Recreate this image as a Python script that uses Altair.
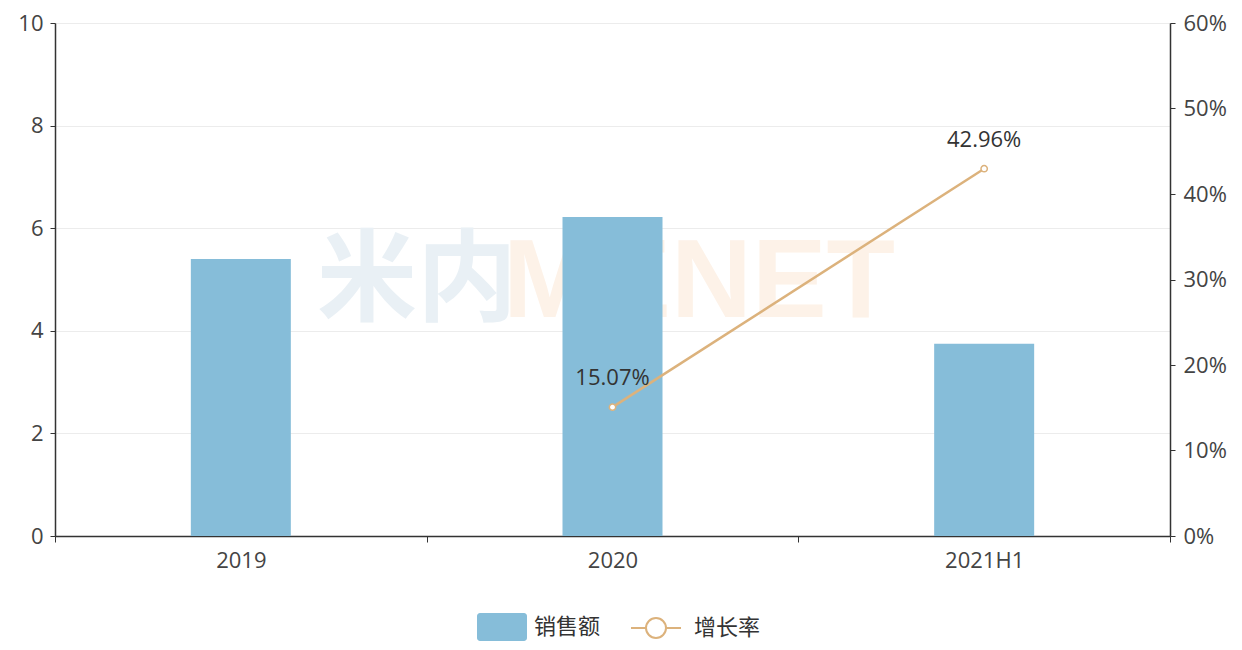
import altair as alt
import pandas as pd

categories = ["2019", "2020", "2021H1"]
sales = [5.40, 6.22, 3.75]
growth = [None, 0.1507, 0.4296]
growth_labels = ["", "15.07%", "42.96%"]

BAR = "#86bdd9"
LINE = "#dcb27c"
FONT = "Noto Sans CJK SC"
NUM = "Open Sans"

bar_df = pd.DataFrame({"cat": categories, "sales": sales, "series": ["销售额"] * 3})
line_df = pd.DataFrame({"cat": categories, "growth": growth, "label": growth_labels,
                        "series2": ["增长率"] * 3}).dropna()

x_axis = alt.Axis(labelAngle=0, tickBand="extent", tickSize=6, labelPadding=8,
                  labelFontSize=22, labelFont=NUM, labelColor="#444", domainColor="#333",
                  tickColor="#333", domainWidth=1.5, grid=False)
x_enc = alt.X("cat:N", sort=categories, title=None,
              scale=alt.Scale(paddingInner=0, paddingOuter=0), axis=x_axis)

rect_path = ("M-0.88,-0.56 H0.88 A0.12,0.12 0 0 1 1,-0.44 V0.44 A0.12,0.12 0 0 1 0.88,0.56 "
             "H-0.88 A0.12,0.12 0 0 1 -1,0.44 V-0.44 A0.12,0.12 0 0 1 -0.88,-0.56 Z")
line_path = ("M-1,0 H-0.4 M0.4,0 H1 M0.4,0 A0.4,0.4 0 1 1 -0.4,0 A0.4,0.4 0 1 1 0.4,0 Z")

bars = alt.Chart(bar_df).mark_bar(size=100).encode(
    x=x_enc,
    y=alt.Y("sales:Q", title=None,
            scale=alt.Scale(domain=[0, 10], nice=False),
            axis=alt.Axis(values=[0, 2, 4, 6, 8, 10], tickSize=5, labelPadding=7,
                          labelFontSize=22, labelFont=NUM, labelColor="#444",
                          domainColor="#333", tickColor="#333", domainWidth=1.5,
                          gridColor="#ececec", orient="left")),
    color=alt.Color("series:N", scale=alt.Scale(domain=["销售额"], range=[BAR]),
                    legend=alt.Legend(orient="none", legendX=422, legendY=579, title=None,
                                      symbolType=rect_path, symbolSize=2500,
                                      symbolStrokeWidth=0, labelFontSize=22,
                                      labelColor="#333", labelFont=FONT, labelOffset=7,
                                      padding=0)),
)

right_axis = alt.Axis(values=[0, 0.1, 0.2, 0.3, 0.4, 0.5, 0.6], format=".0%", tickSize=5,
                      labelPadding=8, labelFontSize=22, labelFont=NUM, labelColor="#444",
                      domainColor="#333", tickColor="#333", domainWidth=1.5, grid=False,
                      orient="right")
y_right = alt.Y("growth:Q", title=None, scale=alt.Scale(domain=[0, 0.6], nice=False),
                axis=right_axis)

line = alt.Chart(line_df).mark_line(strokeWidth=2.5).encode(
    x=x_enc,
    y=y_right,
    stroke=alt.Stroke("series2:N", scale=alt.Scale(domain=["增长率"], range=[LINE]),
                      legend=alt.Legend(orient="none", legendX=575, legendY=579, title=None,
                                        symbolType=line_path, symbolSize=2500,
                                        symbolStrokeWidth=2, symbolFillColor="white",
                                        labelFontSize=22, labelColor="#333", labelFont=FONT,
                                        labelOffset=12, padding=0)),
)

points = alt.Chart(line_df).mark_point(filled=True, fill="white", stroke=LINE,
                                        strokeWidth=1.5, size=40, opacity=1).encode(
    x=x_enc,
    y=y_right,
)

labels = alt.Chart(line_df).mark_text(dy=-29, fontSize=22, color="#333", font=NUM).encode(
    x=x_enc,
    y=y_right,
    text="label:N",
)

wm_df = pd.DataFrame({"t": ["米内", "MENET"]})
wm = alt.Chart(wm_df).transform_filter("datum.t == '米内'").mark_text(
    fontSize=100, fontWeight="bold", font=FONT, align="left", baseline="middle",
    color="#e9f0f5").encode(x=alt.value(262), y=alt.value(260), text="t:N")
wm2 = alt.Chart(wm_df).transform_filter("datum.t == 'MENET'").mark_text(
    fontSize=112, fontWeight="bold", font="Liberation Sans", align="left",
    baseline="middle", color="#fdf2e8").encode(x=alt.value(448), y=alt.value(260), text="t:N")

left = alt.layer(wm, wm2, bars)
right = alt.layer(line, points, labels)

chart = alt.layer(left, right).resolve_scale(y="independent", color="independent",
                                               stroke="independent").properties(
    width=1115, height=513,
    autosize=alt.AutoSizeParams(type="none"),
    padding={"left": 47, "top": 15, "right": 64, "bottom": 106},
).configure_view(stroke=None).configure(font=FONT)

chart.save("out.html", embed_options={"renderer": "svg", "actions": False})
